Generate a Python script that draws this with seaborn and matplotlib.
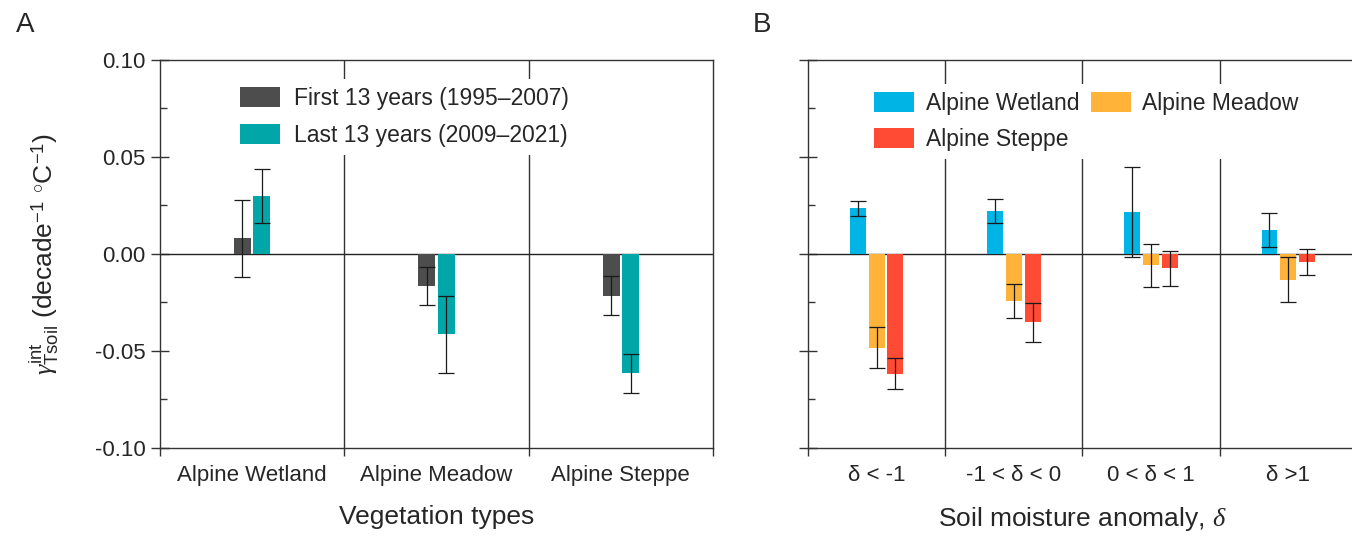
import numpy as np
import pandas as pd
import matplotlib
matplotlib.use("Agg")
import matplotlib.pyplot as plt
from matplotlib.ticker import MultipleLocator, FixedLocator, NullFormatter
import seaborn as sns

# Panel A: vegetation types, two periods
veg_types = ["Alpine Wetland", "Alpine Meadow", "Alpine Steppe"]
periods = ["First 13 years (1995\u20132007)", "Last 13 years (2009\u20132021)"]
first_vals = [0.008, -0.0165, -0.0215]
first_err = [0.020, 0.010, 0.010]
last_vals = [0.030, -0.0415, -0.0615]
last_err = [0.014, 0.020, 0.010]

# Panel B: soil moisture anomaly bins, three vegetation types
delta_bins = ["\u03b4 < -1", "-1 < \u03b4 < 0", "0 < \u03b4 < 1", "\u03b4 >1"]
veg_names = ["Alpine Wetland", "Alpine Meadow", "Alpine Steppe"]
wetland_vals = [0.0235, 0.0222, 0.0218, 0.0125]
wetland_err = [0.0040, 0.0063, 0.0232, 0.0088]
meadow_vals = [-0.0483, -0.0243, -0.0058, -0.0132]
meadow_err = [0.0106, 0.0086, 0.0111, 0.0118]
steppe_vals = [-0.0618, -0.0353, -0.0074, -0.0040]
steppe_err = [0.0080, 0.0100, 0.0090, 0.0067]

colors_a = ["#4d4d4d", "#00a6a8"]
colors_b = ["#00b4e6", "#ffb339", "#ff4a34"]

sns.set_style("ticks")
plt.rcParams["font.family"] = ["Liberation Sans", "DejaVu Sans"]
plt.rcParams["mathtext.fontset"] = "custom"
plt.rcParams["mathtext.rm"] = "Liberation Sans"
plt.rcParams["mathtext.it"] = "Liberation Serif:italic"

df_a = pd.DataFrame({
    "veg": veg_types * 2,
    "period": [periods[0]] * 3 + [periods[1]] * 3,
    "val": first_vals + last_vals,
})
df_b = pd.DataFrame({
    "bin": delta_bins * 3,
    "veg": [veg_names[0]] * 4 + [veg_names[1]] * 4 + [veg_names[2]] * 4,
    "val": wetland_vals + meadow_vals + steppe_vals,
})

fig = plt.figure(figsize=(13.52, 5.36), dpi=100)
ax_a = fig.add_axes([0.1183, 0.1642, 0.4091, 0.7239])
ax_b = fig.add_axes([0.5976, 0.1642, 0.4060, 0.7239])


def style_axis(ax, ncat, labels):
    ax.set_xlim(-0.5, ncat - 0.5)
    ax.set_ylim(-0.1, 0.1)
    for b in np.arange(0.5, ncat - 0.5, 1):
        ax.axvline(b, color="#333333", lw=1.0, zorder=0.5)
    ax.axhline(0, color="#222222", lw=1.0, zorder=0.6)
    ax.xaxis.set_major_locator(FixedLocator(np.arange(-0.5, ncat, 1)))
    ax.xaxis.set_major_formatter(NullFormatter())
    ax.xaxis.set_minor_locator(FixedLocator(np.arange(ncat)))
    ax.set_xticklabels(labels, minor=True)
    ax.tick_params(axis="x", which="major", direction="out", length=6, width=1, color="#333333")
    ax.tick_params(axis="x", which="minor", length=0, pad=12, labelsize=16)
    ax.yaxis.set_major_locator(MultipleLocator(0.05))
    ax.yaxis.set_minor_locator(MultipleLocator(0.025))
    ax.tick_params(axis="y", which="major", direction="inout", length=13, width=1,
                   color="#333333", labelsize=16, pad=4)
    ax.tick_params(axis="y", which="minor", direction="in", length=5, width=1, color="#333333")
    for s in ax.spines.values():
        s.set_visible(True)
        s.set_color("#333333")
        s.set_linewidth(1.0)


def add_errors(ax, vals_list, err_list):
    for cont, vals, errs in zip(ax.containers, vals_list, err_list):
        xs = [r.get_x() + r.get_width() / 2 for r in cont.patches]
        ax.errorbar(xs, vals, yerr=errs, fmt="none", ecolor="#1a1a1a",
                    elinewidth=0.9, capsize=6, capthick=0.9, zorder=3)


# Panel A
sns.barplot(data=df_a, x="veg", y="val", hue="period", palette=colors_a, saturation=1,
            width=0.21, gap=0.13, errorbar=None, edgecolor="none", ax=ax_a, zorder=2)
add_errors(ax_a, [first_vals, last_vals], [first_err, last_err])
style_axis(ax_a, 3, veg_types)
ax_a.yaxis.set_major_formatter(matplotlib.ticker.FormatStrFormatter("%.2f"))
ax_a.set_xlabel("Vegetation types", fontsize=19, labelpad=14)
ax_a.set_ylabel(r"$\gamma_{\mathrm{Tsoil}}^{\mathrm{int}}$ (decade$^{-1}$ $^{\circ}$C$^{-1}$)",
                fontsize=19, labelpad=24)
h, l = ax_a.get_legend_handles_labels()
ax_a.legend(h, l, loc="upper left", bbox_to_anchor=(0.11, 0.98), fontsize=16.5,
            frameon=True, facecolor="white", edgecolor="none", framealpha=1,
            handlelength=1.75, handleheight=0.95, handletextpad=0.6,
            labelspacing=0.58, borderpad=0.35)

# Panel B
sns.barplot(data=df_b, x="bin", y="val", hue="veg", palette=colors_b, saturation=1,
            width=0.41, gap=0.15, errorbar=None, edgecolor="none", ax=ax_b, zorder=2)
add_errors(ax_b, [wetland_vals, meadow_vals, steppe_vals],
           [wetland_err, meadow_err, steppe_err])
style_axis(ax_b, 4, delta_bins)
ax_b.yaxis.set_major_formatter(NullFormatter())
ax_b.set_ylabel("")
ax_b.set_xlabel(r"Soil moisture anomaly, $\delta$", fontsize=19, labelpad=14)
h, l = ax_b.get_legend_handles_labels()
order = [0, 2, 1]
ax_b.legend([h[i] for i in order], [l[i] for i in order], loc="upper left",
            bbox_to_anchor=(0.085, 0.968), ncol=2, fontsize=16.5,
            frameon=True, facecolor="white", edgecolor="none", framealpha=1,
            handlelength=1.75, handleheight=0.95, handletextpad=0.5,
            labelspacing=0.58, columnspacing=0.5, borderpad=0.35)

fig.text(0.012, 0.94, "A", fontsize=20)
fig.text(0.557, 0.94, "B", fontsize=20)

fig.savefig("out.png", dpi=100)
